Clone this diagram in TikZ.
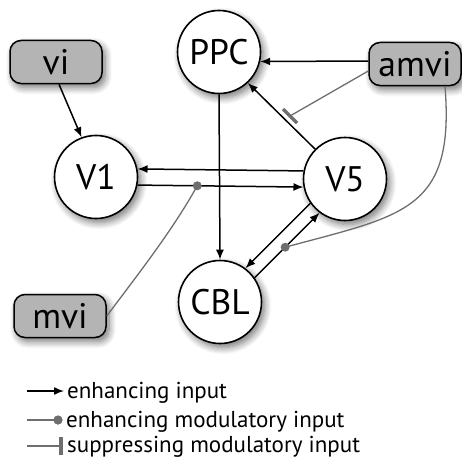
\documentclass[tikz,border=0pt]{standalone}
\usepackage{fontspec}
\setmainfont{PT Sans}
\usetikzlibrary{arrows.meta,shadows.blur,calc}
\definecolor{boxgray}{HTML}{B4B4B4}
\definecolor{modgray}{HTML}{6E6E6E}
\begin{document}
\begin{tikzpicture}[x=1pt,y=-1pt,
  shad/.style={blur shadow={shadow xshift=3pt,shadow yshift=-4pt,shadow blur radius=7pt,shadow blur steps=8,shadow opacity=55}},
  area/.style={circle,draw,line width=1.6pt,fill=white,minimum size=83pt,inner sep=0pt,font=\fontsize{35.5}{37}\selectfont,shad},
  inp/.style={rectangle,rounded corners=11pt,draw,line width=1.5pt,fill=boxgray,minimum width=92pt,minimum height=43pt,inner sep=0pt,font=\fontsize{35.5}{37}\selectfont,shad},
  enh/.style={-{Latex[length=10pt,width=8pt]},line width=1.5pt},
  mod/.style={draw=modgray,line width=1.3pt},
  dotm/.style={circle,fill=modgray,inner sep=0pt,minimum size=9pt},
  supbar/.style={draw=modgray,line width=3.5pt},
  legend/.style={anchor=base west,inner sep=0pt,font=\fontsize{23}{25}\selectfont}
]
\useasboundingbox (0,0) rectangle (462,460);

\node[area] (PPC) at (219,52) {PPC};
\node[area] (V1) at (96,177) {V1};
\node[area] (V5) at (345,179) {V5};
\node[area] (CBL) at (220,302) {CBL};
\node[inp] (vi) at (56,62) {vi};
\node[inp] (amvi) at (415,64) {amvi};
\node[inp] (mvi) at (60,316) {mvi};

% enhancing inputs
\draw[enh] ([xshift=3pt]vi.south) -- (V1.110);
\draw[enh] (V5.169) -- (V1.11);
\draw[enh] (V1.-11) -- coordinate[pos=0.36] (d1) (V5.191);
\draw[enh] (PPC.south) -- (CBL.north);
\draw[enh] ([yshift=3pt]amvi.west) -- (PPC.-13);
\draw[enh] (V5.135) -- (PPC.-47);
\draw[enh] (V5.215) -- (CBL.53);
\draw[enh] (CBL.35) -- coordinate[pos=0.47] (d2) (V5.233);

% modulatory inputs
\coordinate (sup) at (290,116);
\draw[mod] ([yshift=-7pt]amvi.west) -- (sup);
\draw[supbar] ($(sup)+(-7,-7)$) -- ($(sup)+(7,7)$);
\draw[mod] (mvi.east) .. controls +(30,-40) and +(-25,45) .. (d1);
\draw[mod] ([xshift=30pt]amvi.south) .. controls +(10,125) and +(118,-32) .. (d2);
\node[dotm] (dot1) at (d1) {};
\node[dotm] (dot2) at (d2) {};

% legend
\coordinate (la) at (27,391);
\coordinate (lb) at (64,391);
\draw[enh] (la) -- (lb);
\node[legend] (t1) at (67,398) {enhancing input};
\coordinate (lc) at (27,420);
\node[dotm] (ldot) at (58,420) {};
\draw[mod] (lc) -- (ldot.center);
\node[dotm] at (ldot) {};
\node[legend] (t2) at (66,427) {enhancing modulatory input};
\coordinate (ld) at (27,446);
\coordinate (le) at (61,446);
\draw[mod] (ld) -- (le);
\draw[supbar] ($(le)+(0,-9)$) -- ($(le)+(0,9)$);
\node[legend] (t3) at (67,452) {suppressing modulatory input};
\end{tikzpicture}
\end{document}
